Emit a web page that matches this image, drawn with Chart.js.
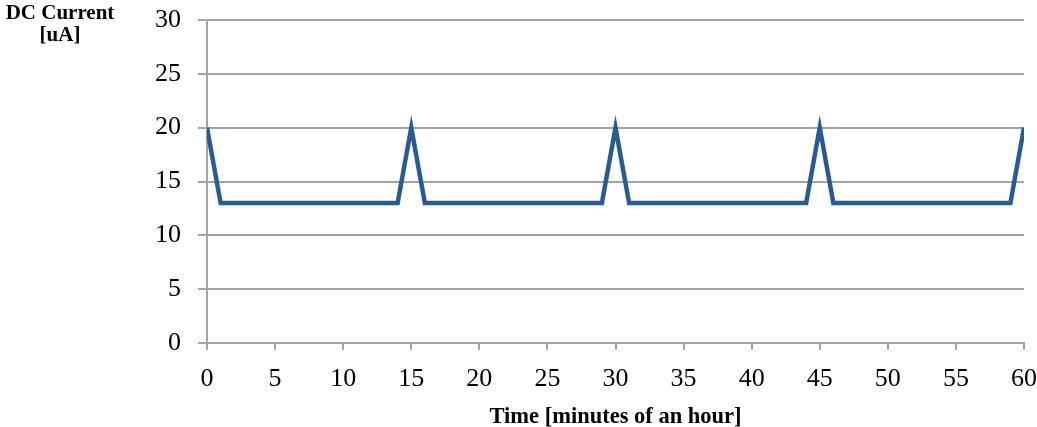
<!DOCTYPE html>
<html>
<head>
<meta charset="utf-8">
<script src="https://cdn.jsdelivr.net/npm/chart.js@4"></script>
<style>
  html, body { margin: 0; padding: 0; background: #ffffff; }
  #wrap { width: 1037px; height: 427px; position: relative; }
</style>
</head>
<body>
<div id="wrap"><canvas id="c" width="1037" height="427"></canvas></div>
<script>
// Data
const minutes = [0,1,2,3,4,5,6,7,8,9,10,11,12,13,14,15,16,17,18,19,20,21,22,23,24,25,26,27,28,29,30,31,32,33,34,35,36,37,38,39,40,41,42,43,44,45,46,47,48,49,50,51,52,53,54,55,56,57,58,59,60];
const currentUA = [20,13,13,13,13,13,13,13,13,13,13,13,13,13,13,20,13,13,13,13,13,13,13,13,13,13,13,13,13,13,20,13,13,13,13,13,13,13,13,13,13,13,13,13,13,20,13,13,13,13,13,13,13,13,13,13,13,13,13,13,20];
const xTitle = 'Time [minutes of an hour]';
const yTitleLines = ['DC Current', '[uA]'];
const xMin = 0, xMax = 60, xStep = 5;
const yMin = 0, yMax = 30, yStep = 5;

const points = minutes.map((m, i) => ({ x: m, y: currentUA[i] }));

const serif = "'Liberation Serif', 'DejaVu Serif', serif";
const gridColor = '#a3a3a3';

const yTitlePlugin = {
  id: 'yTitle',
  afterDraw(chart) {
    const ctx = chart.ctx;
    ctx.save();
    ctx.font = 'bold 21px ' + serif;
    ctx.fillStyle = '#000';
    ctx.textAlign = 'center';
    ctx.textBaseline = 'alphabetic';
    ctx.fillText(yTitleLines[0], 60, 19);
    ctx.fillText(yTitleLines[1], 60, 41);
    ctx.restore();
  }
};

function zeroPad(scale) {
  scale.paddingTop = 0; scale.paddingBottom = 0;
  scale.paddingLeft = 0; scale.paddingRight = 0;
}

new Chart(document.getElementById('c'), {
  type: 'line',
  data: {
    datasets: [{
      data: points,
      borderColor: '#265c93',
      borderWidth: 4.5,
      pointRadius: 0,
      tension: 0,
      fill: false
    }]
  },
  options: {
    responsive: false,
    animation: false,
    devicePixelRatio: 1,
    layout: { padding: { top: 20, right: 13, left: 0, bottom: 0 } },
    plugins: { legend: { display: false }, tooltip: { enabled: false } },
    scales: {
      x: {
        type: 'linear',
        min: xMin, max: xMax,
        ticks: { stepSize: xStep, color: '#000', font: { family: serif, size: 26 }, padding: 14, maxRotation: 0 },
        grid: { drawOnChartArea: false, drawTicks: true, tickLength: 7, color: gridColor, lineWidth: 2 },
        border: { color: gridColor, width: 2 },
        title: { display: true, text: xTitle, color: '#000', font: { family: serif, size: 22.5, weight: 'bold' }, padding: { top: 4, bottom: -4 } },
        afterFit(scale) { scale.height = 84; zeroPad(scale); }
      },
      y: {
        min: yMin, max: yMax,
        ticks: { stepSize: yStep, color: '#000', font: { family: serif, size: 26 }, padding: 17 },
        grid: { color: gridColor, lineWidth: 2, tickLength: 9 },
        border: { color: gridColor, width: 2 },
        afterFit(scale) { scale.width = 207; zeroPad(scale); }
      }
    }
  },
  plugins: [yTitlePlugin]
});
</script>
</body>
</html>
